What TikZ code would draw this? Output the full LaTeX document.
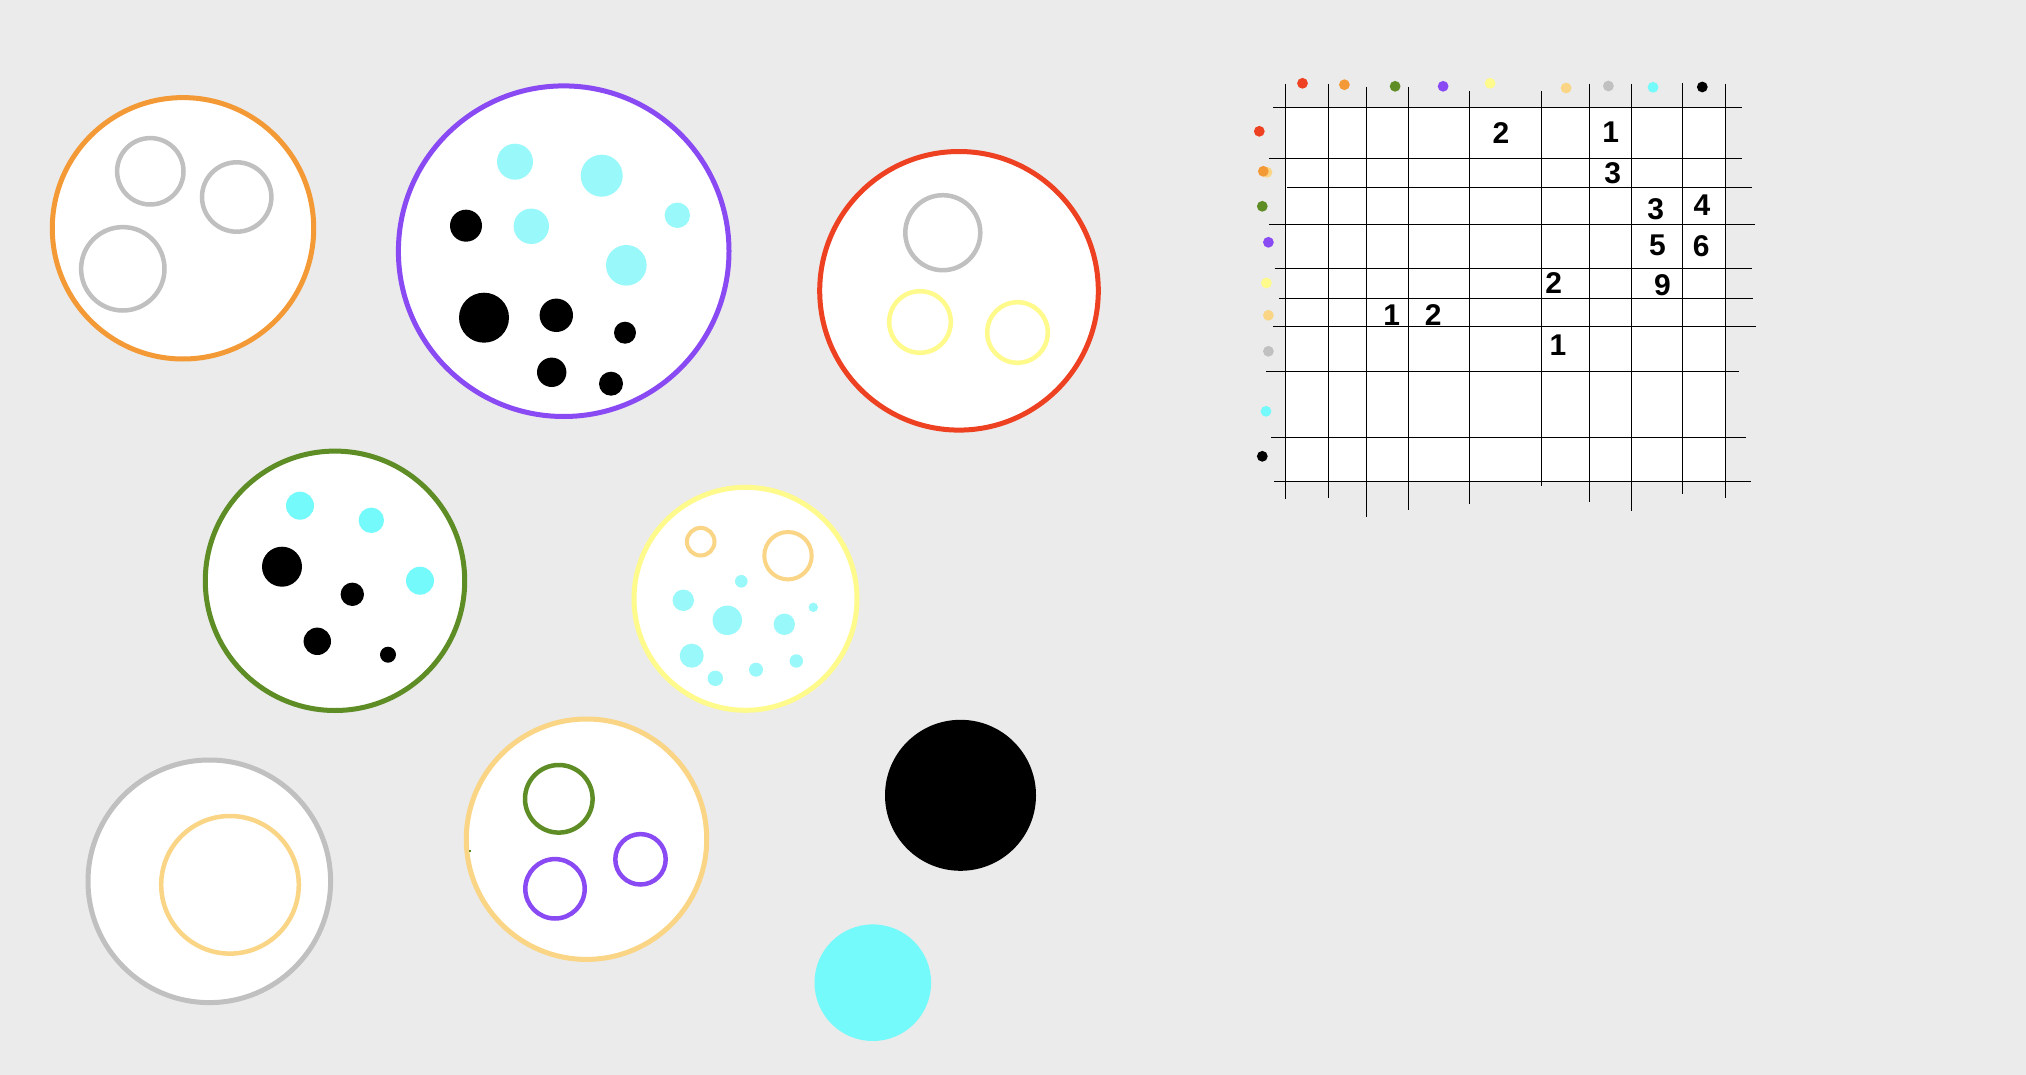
\documentclass[tikz,border=0pt]{standalone}
\usepackage{fontspec}
\setmainfont{Liberation Sans}
\definecolor{bgc}{RGB}{235,235,235}
\definecolor{cred}{RGB}{238,65,34}
\definecolor{corange}{RGB}{243,154,55}
\definecolor{cgreen}{RGB}{94,141,38}
\definecolor{cpurple}{RGB}{138,74,243}
\definecolor{cyellow}{RGB}{255,250,140}
\definecolor{cpeach}{RGB}{249,213,133}
\definecolor{cgray}{RGB}{192,192,192}
\definecolor{ccyan}{RGB}{116,250,251}
\definecolor{ccyanl}{RGB}{153,249,250}
\tikzset{
  ring/.style={draw, fill=white, line width=5pt},
  sub/.style={draw, line width=4.5pt},
  gridline/.style={draw=black, line width=1.3pt},
  digit/.style={inner sep=0pt, font=\fontsize{30pt}{30pt}\selectfont\bfseries},
}
\begin{document}
\begin{tikzpicture}[x=1pt,y=-1pt]
\useasboundingbox (0,0) rectangle (2026,1075);
\fill[bgc] (0,0) rectangle (2026,1075);

% ---- orange circle with gray rings
\draw[ring, draw=corange] (183,228.3) circle[radius=130.7pt];
\draw[sub, draw=cgray] (150.3,171.3) circle[radius=33.2pt];
\draw[sub, draw=cgray] (236.7,197) circle[radius=34.7pt];
\draw[sub, draw=cgray] (122.8,268.8) circle[radius=41.7pt];

% ---- purple circle with dots
\draw[ring, draw=cpurple] (563.7,251.2) circle[radius=165.3pt];
\foreach \x/\y/\r in {515/161.7/18, 601.7/175.7/21, 677.3/215.3/12.7, 531.3/226.3/17.7, 626.3/265.3/20.3}
  \fill[ccyanl] (\x,\y) circle[radius=\r pt];
\foreach \x/\y/\r in {466/225.7/16, 484/317.7/25, 556.3/315.3/16.7, 625/332.7/11, 551.7/372.3/14.7, 611/383.7/12}
  \fill[black] (\x,\y) circle[radius=\r pt];

% ---- red circle
\draw[ring, draw=cred] (959,290.8) circle[radius=139.3pt];
\draw[sub, draw=cgray] (942.8,232.7) circle[radius=37.5pt];
\draw[sub, draw=cyellow] (920,322) circle[radius=30.8pt];
\draw[sub, draw=cyellow] (1017.5,332.5) circle[radius=30.3pt];

% ---- green circle
\draw[ring, draw=cgreen] (335,580.8) circle[radius=129.7pt];
\foreach \x/\y/\r in {300/505.7/14, 371.3/520.3/12.7, 420/580.7/14}
  \fill[ccyan] (\x,\y) circle[radius=\r pt];
\foreach \x/\y/\r in {282/566.7/20, 352.3/594.3/11.7, 317.3/641.3/13.7, 388/654.7/8}
  \fill[black] (\x,\y) circle[radius=\r pt];

% ---- yellow circle
\draw[ring, draw=cyellow] (745.5,598.8) circle[radius=111.5pt];
\draw[line width=4pt, draw=cpeach] (700.7,541.7) circle[radius=13.8pt];
\draw[line width=4pt, draw=cpeach] (788,555.7) circle[radius=23.7pt];
\foreach \x/\y/\r in {741.3/581.3/6.3, 683.3/600.3/10.7, 727.3/620.3/14.7, 813.3/607.3/4.7, 784.3/624.3/10.7, 691.7/655.7/12, 715.3/678.3/7.7, 756/669.7/7, 796.3/661/6.7}
  \fill[ccyanl] (\x,\y) circle[radius=\r pt];

% ---- gray circle
\draw[ring, draw=cgray] (209.3,881.3) circle[radius=121.3pt];
\draw[sub, draw=cpeach] (230,884.8) circle[radius=68.8pt];

% ---- peach circle
\draw[ring, draw=cpeach] (586.5,839.2) circle[radius=120.2pt];
\draw[sub, draw=cgreen] (558.8,798.8) circle[radius=33.8pt];
\draw[sub, draw=cpurple] (555,888.8) circle[radius=29.7pt];
\draw[sub, draw=cpurple] (640.5,859.3) circle[radius=25.2pt];
\fill[cgreen] (468.7,849.7) rectangle (470.7,851.9);

% ---- filled circles
\fill[black] (960.5,795.3) circle[radius=75.5pt];
\fill[ccyan] (872.8,982.7) circle[radius=58.3pt];

% ---- grid
\fill[white] (1285.3,107.3) rectangle (1725.4,481.3);
\foreach \x/\t/\b in {1285.3/84/499.3, 1328.2/84/498.3, 1366.4/87/516.5, 1408.3/87/509.5, 1469.2/91/503.5, 1541.2/91/485.5, 1589.2/84/502.3, 1631.4/84/510.5, 1682.5/83/493.5, 1725.4/84/497.5}
  \draw[gridline] (\x,\t) -- (\x,\b);
\foreach \y/\l/\r in {107.3/1273.1/1741.5, 158.3/1269.4/1741.5, 187.3/1287/1752, 224.3/1269.4/1754.7, 268.3/1274.5/1752, 298.3/1278.9/1752.7, 326.3/1273.1/1756, 371.3/1266/1738.5, 437.3/1271.1/1745.6, 481.3/1274.1/1750.7}
  \draw[gridline] (\l,\y) -- (\r,\y);

% header dots (top)
\foreach \x/\y/\c in {1302.5/83.3/cred, 1344.4/84.7/corange, 1395.1/86.3/cgreen, 1443.1/86.3/cpurple, 1490.1/83.3/cyellow, 1566.1/88/cpeach, 1608.4/86/cgray, 1653/87.3/ccyan, 1702.3/87/black}
  \fill[\c] (\x,\y) circle[radius=5.4pt];
% header dots (left)
\fill[cpeach] (1267,172.3) circle[radius=5.4pt];
\foreach \x/\y/\c in {1259.3/131.3/cred, 1263.3/171.3/corange, 1262.3/206.3/cgreen, 1268.4/242.3/cpurple, 1266.4/283/cyellow, 1268.4/315.3/cpeach, 1268.4/351.3/cgray, 1266/411.3/ccyan, 1262.3/456.3/black}
  \fill[\c] (\x,\y) circle[radius=5.4pt];

% digits
\node[digit] (d1) at (1500.9,133.3) {2};
\node[digit] (d2) at (1610.7,131.7) {1};
\node[digit] (d3) at (1612.8,173.3) {3};
\node[digit] (d4) at (1655.7,209) {3};
\node[digit] (d5) at (1702,205) {4};
\node[digit] (d6) at (1657.4,245.7) {5};
\node[digit] (d7) at (1701.3,245.7) {6};
\node[digit] (d8) at (1553.6,282.7) {2};
\node[digit] (d9) at (1662.4,285) {9};
\node[digit] (d10) at (1391.7,315) {1};
\node[digit] (d11) at (1433.3,315) {2};
\node[digit] (d12) at (1558,345) {1};
\end{tikzpicture}
\end{document}
